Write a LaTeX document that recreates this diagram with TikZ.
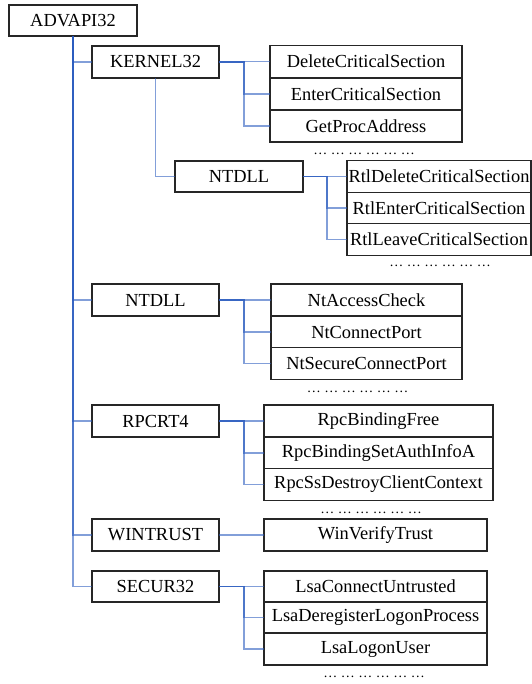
\documentclass[tikz,border=0pt]{standalone}
\usepackage{fontspec}
\setmainfont{Liberation Serif}
\begin{document}
\begin{tikzpicture}[x=0.75pt,y=-0.75pt,
  box/.style 2 args={draw=black!85, line width=0.8pt, fill=white, inner sep=0pt, outer sep=0pt,
    minimum width=#1*0.75pt, minimum height=#2*0.75pt, font=\fontsize{13.8}{16}\selectfont},
  ln/.style={draw={rgb,255:red,40;green,90;blue,190}, line width=0.9pt, opacity=0.58},
  dotsx/.style={inner sep=0pt, font=\fontsize{10.5}{12}\selectfont}]
\useasboundingbox (0,0) rectangle (531,684);
% level 0
\node[box={128}{31}] (adv) at (73,20.5) {ADVAPI32};
% level 1
\node[box={127}{32}] (k32) at (155.5,62) {KERNEL32};
\node[box={127}{32}] (nt) at (155.5,300) {NTDLL};
\node[box={127}{32}] (rpc) at (155.5,421) {RPCRT4};
\node[box={127}{32}] (win) at (155.5,535) {WINTRUST};
\node[box={127}{31}] (sec) at (155.5,586.5) {SECUR32};
\node[box={128}{31}] (nts) at (239,176.5) {NTDLL};
% kernel32 children
\node[box={192}{32.5}] (k1) at (366,61.5) {DeleteCriticalSection};
\node[box={192}{32}] (k2) at (366,94) {EnterCriticalSection};
\node[box={192}{32}] (k3) at (366,126) {GetProcAddress};
% ntdll (sub) children
\node[box={184}{31.5}] (s1) at (439,176.5) {RtlDeleteCriticalSection};
\node[box={184}{31.5}] (s2) at (439,208) {RtlEnterCriticalSection};
\node[box={184}{31.5}] (s3) at (439,239.5) {RtlLeaveCriticalSection};
% ntdll children
\node[box={191}{32}] (n1) at (366.5,300) {NtAccessCheck};
\node[box={191}{32}] (n2) at (366.5,332) {NtConnectPort};
\node[box={191}{31.5}] (n3) at (366.5,363.5) {NtSecureConnectPort};
% rpcrt4 children
\node[box={229}{32}] (r1) at (378.5,421) {RpcBindingFree};
\node[box={229}{32}] (r2) at (378.5,453) {RpcBindingSetAuthInfoA};
\node[box={229}{31.5}] (r3) at (378.5,484.5) {RpcSsDestroyClientContext};
% wintrust child
\node[box={223}{32}] (w1) at (375.5,535) {WinVerifyTrust};
% secur32 children
\node[box={223}{31}] (c1) at (375.5,586.5) {LsaConnectUntrusted};
\node[box={223}{31}] (c2) at (375.5,617.5) {LsaDeregisterLogonProcess};
\node[box={223}{32}] (c3) at (375.5,649) {LsaLogonUser};
% dots
\node[dotsx] (d1) at (364,154) {\dots{} \dots{} \dots{} \dots{} \dots{} \dots};
\node[dotsx] (d2) at (440,266) {\dots{} \dots{} \dots{} \dots{} \dots{} \dots};
\node[dotsx] (d3) at (357.5,392) {\dots{} \dots{} \dots{} \dots{} \dots{} \dots};
\node[dotsx] (d4) at (371,513) {\dots{} \dots{} \dots{} \dots{} \dots{} \dots};
\node[dotsx] (d5) at (374,677) {\dots{} \dots{} \dots{} \dots{} \dots{} \dots};
% connectors
\foreach \t in {k32,nt,rpc,win,sec} \draw[ln] (adv.south) |- (\t.west);
\draw[ln] (k32.south) |- (nts.west);
\foreach \t in {k1,k2,k3} \draw[ln] (k32.east) -- ++(25,0) |- (\t.west);
\foreach \t in {s1,s2,s3} \draw[ln] (nts.east) -- ++(24,0) |- (\t.west);
\foreach \t in {n1,n2,n3} \draw[ln] (nt.east) -- ++(25,0) |- (\t.west);
\foreach \t in {r1,r2,r3} \draw[ln] (rpc.east) -- ++(25,0) |- (\t.west);
\draw[ln] (win.east) -- (w1.west);
\foreach \t in {c1,c2,c3} \draw[ln] (sec.east) -- ++(25,0) |- (\t.west);
\end{tikzpicture}
\end{document}
